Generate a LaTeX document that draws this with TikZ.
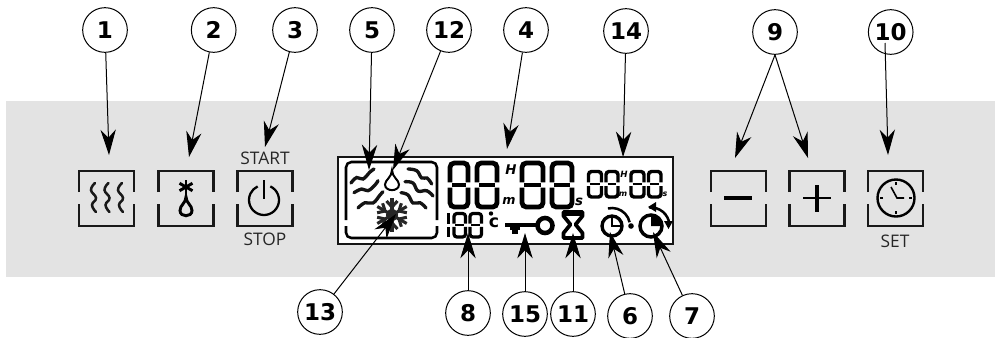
\documentclass[tikz,border=0pt]{standalone}
\usepackage{fontspec}
\setmainfont{Open Sans}
\newfontfamily\numfont{DejaVu Sans}
\usetikzlibrary{arrows.meta}
\newcommand{\lcdd}[5]{%
  \pgfmathsetmacro\lcdm{(#2+#4)/2}%
  \pgfmathsetmacro\lcdi{#5*0.6}%
  \draw[line width=#5pt,rounded corners=#5*0.9pt] (#1,\lcdm-0.7*#5) -- (#1,#2) -- (#3,#2) -- (#3,\lcdm-0.7*#5);
  \draw[line width=#5pt,rounded corners=#5*0.9pt] (#1,\lcdm+0.7*#5) -- (#1,#4) -- (#3,#4) -- (#3,\lcdm+0.7*#5);
  \draw[line width=#5*0.7pt] (#1+\lcdi,\lcdm) -- (#3-\lcdi,\lcdm);
}
\newcommand{\bracketbox}[2]{%
  \draw[btn] (#1,#2+21) -- (#1,#2) -- (#1+55,#2) -- (#1+55,#2+21);
  \draw[btn] (#1,#2+33) -- (#1,#2+55) -- (#1+55,#2+55) -- (#1+55,#2+33);
}
\newcommand{\lcdwave}[1]{\draw[wavy] plot[smooth,tension=0.7] coordinates {#1};}
\tikzset{
  panel/.style={fill=black!11,draw=none},
  btn/.style={line width=2.2pt,draw=black!90},
  wavy/.style={line width=2.5pt,line cap=round,draw=black!92},
  callout/.style={circle,draw,line width=0.75pt,minimum size=33.5pt,inner sep=0pt,font=\numfont\bfseries\fontsize{17.25}{18}\selectfont},
  pointer/.style={line width=0.75pt,-{Stealth[length=19pt,width=11.5pt,inset=6pt]}},
  legend/.style={inner sep=0pt,font=\fontsize{13}{14}\selectfont,text=black!85},
  unitmark/.style={inner sep=0pt,font=\numfont\bfseries\itshape\fontsize{#1}{#1}\selectfont},
  unitmark/.default=9
}
\begin{document}
\begin{tikzpicture}[x=0.75pt,y=-0.75pt]
\useasboundingbox (0,0) rectangle (995,337);
\fill[panel] (6,101) rectangle (995,276.5);

% keys
\bracketbox{79}{171}
\bracketbox{158.5}{171}
\bracketbox{237.5}{171}
\bracketbox{711}{171}
\bracketbox{789.5}{171}
\bracketbox{868}{171}

% heat icon
\foreach \dx in {0,13.5,27}{
  \draw[line width=1.9pt,line cap=round,draw=black!90,shift={(\dx,0)}] plot[smooth,tension=0.8] coordinates {(95,183) (91,190) (96,198) (92,205) (96,212)};
}
% cold and wet icon
\foreach \a in {90,30,150}{
  \draw[line width=2.2pt] (186,187) ++(\a:7.5) -- ++(\a+180:15);
}
\draw[line width=2.2pt] (186,197) .. controls (186,203) and (192,205) .. (192,210.5) .. controls (192,217.5) and (180,217.5) .. (180,210.5) .. controls (180,205) and (186,203) .. (186,197) -- cycle;
% power icon
\draw[line width=1.7pt] (264,200) ++(-65:15) arc[start angle=-65,end angle=245,radius=15];
\draw[line width=1.9pt] (264,180) -- (264,199);
\node[legend] (start) at (265,158) {START};
\node[legend] (stop) at (265,239) {STOP};
% minus, plus, clock
\draw[line width=3.2pt] (724,198) -- (752,198);
\draw[line width=2.2pt] (803,198) -- (831,198);
\draw[line width=2.6pt] (817,185) -- (817,212);
\draw[line width=1.8pt] (896,198) circle[radius=18.5];
\draw[line width=1.2pt] (891,187) -- (897,198) -- (904,198);
\foreach \a in {0,90,180,270}{
  \draw[line width=1.2pt] (896,198) ++(\a:13) -- ++(\a:3);
}
\node[legend] (set) at (895,241) {SET};

% display
\draw[line width=2.2pt,fill=white,draw=black!92] (338,157) rectangle (673,244);
\draw[line width=1.9pt,rounded corners=4pt] (346,220) -- (346,162) -- (437,162) -- (437,220);
\draw[line width=1.9pt,rounded corners=4pt] (346,226) -- (346,238) -- (437,238) -- (437,226);
\lcdwave{(351,183) (356.7,177.5) (363,179) (370,172) (374,169)}
\lcdwave{(354,192.7) (361.7,189) (368,190.7) (375,185) (378,180.7)}
\lcdwave{(358,208) (365,202.7) (373,203) (380,195) (383,191.7)}
\lcdwave{(408,169) (416.7,170.7) (421.7,178) (427,178) (431.7,184)}
\lcdwave{(405,181.7) (413,183) (418,191) (426.7,190.7) (433,196)}
\lcdwave{(401,192.7) (408,195) (413,203) (420,202.7) (426,208)}
% drop
\draw[line width=1.5pt] (392,170) .. controls (392,177) and (399,180) .. (399,184.5) .. controls (399,192) and (385,192) .. (385,184.5) .. controls (385,180) and (392,177) .. (392,170) -- cycle;
% snowflake
\foreach \a in {30,90,150,210,270,330}{
  \begin{scope}[shift={(392,215)},rotate=\a,draw=black!85,line width=2.3pt]
    \draw (0,0) -- (17,0);
    \draw (8,0) -- (14,5.5);
    \draw (8,0) -- (14,-5.5);
  \end{scope}
}
\fill[black!85] (392,215) circle[radius=6];

% digits
\lcdd{450}{163}{468}{207}{3.6}
\lcdd{477}{163}{497}{207}{3.6}
\lcdd{522}{163}{543}{207}{3.6}
\lcdd{552}{163}{572}{207}{3.6}
\lcdd{588.5}{171.5}{601.5}{197}{2.6}
\lcdd{606}{171.5}{618}{197}{2.6}
\lcdd{631}{171.5}{644}{197}{2.6}
\lcdd{648.5}{171.5}{661}{197}{2.6}
\draw[line width=2.6pt] (448.5,213) -- (448.5,224);
\draw[line width=2.6pt] (448.5,227) -- (448.5,237);
\lcdd{454}{213.5}{465.5}{237}{2.4}
\lcdd{470}{213.5}{481.5}{237}{2.4}
\node[unitmark=10] (uh) at (511,170) {H};
\node[unitmark=9.5] (um) at (509,201) {m};
\node[unitmark=10] (us) at (579,202) {s};
\node[unitmark=6.5] (uh2) at (624,174) {H};
\node[unitmark=6] (um2) at (623,194) {m};
\node[unitmark=6] (us2) at (665,194) {s};
\node[inner sep=0pt,font=\numfont\bfseries\fontsize{13}{13}\selectfont] (deg) at (494,223) {c};
\fill (491,213.5) circle[radius=2.2];

% key
\draw[line width=3.2pt] (505,225) -- (538,225);
\fill (510,225) rectangle (520,230);
\fill (512,230) rectangle (518,234);
\draw[line width=3.4pt] (545,225.5) circle[radius=7.5];

% hourglass
\draw[line width=2.8pt,line join=round] (563.5,212) -- (582.5,212) -- (582.5,216) -- (575.5,224.5) -- (582.5,233) -- (582.5,238) -- (563.5,238) -- (563.5,233) -- (570.5,224.5) -- (563.5,216) -- cycle;
\fill (564,212) rectangle (582,216);

% clock symbols
\draw[line width=2.5pt] (612,226) circle[radius=10];
\draw[line width=2.1pt] (612,216) -- (612,226) -- (622,226);
\draw[line width=1.9pt] (612,226) ++(-103:18) arc[start angle=-103,end angle=-12,radius=18];
\fill (631,226) circle[radius=2.8];
\draw[line width=2.6pt] (651,226) circle[radius=11];
\fill (651,226) -- (651,215) arc[start angle=-90,end angle=0,radius=11] -- cycle;
\draw[line width=1.9pt] (651,226) ++(-95:18.5) arc[start angle=-95,end angle=-5,radius=18.5];
\fill (648,207) -- (656,202) -- (656,212) -- cycle;
\fill (664,221) -- (673,221) -- (668.5,229) -- cycle;

% callouts
\node[callout] (n1) at (105,30) {1};
\node[callout] (n2) at (213.7,30) {2};
\node[callout] (n3) at (295,30) {3};
\node[callout] (n5) at (372,30) {5};
\node[callout] (n12) at (449,30) {12};
\node[callout] (n4) at (526,30) {4};
\node[callout] (n14) at (626,31) {14};
\node[callout] (n9) at (775,32) {9};
\node[callout] (n10) at (890.7,32) {10};
\node[callout] (n13) at (320,312) {13};
\node[callout] (n8) at (468,313) {8};
\node[callout] (n15) at (525,314) {15};
\node[callout] (n11) at (573,314) {11};
\node[callout] (n6) at (630,316) {6};
\node[callout] (n7) at (692,316) {7};

\coordinate (t1) at (109,155);
\coordinate (t2) at (189,157);
\coordinate (t3) at (265,147);
\coordinate (t5) at (369,170);
\coordinate (t12) at (393,170);
\coordinate (t4) at (507,149);
\coordinate (t14) at (623,157);
\coordinate (t9a) at (735,158);
\coordinate (t9b) at (808,158);
\coordinate (s10) at (885,43);
\coordinate (t10) at (888,155);
\coordinate (t13) at (396,214);
\coordinate (t8) at (468,233);
\coordinate (t15) at (525,233);
\coordinate (t11) at (573,233);
\coordinate (t6) at (610,232);
\coordinate (t7) at (653,232);

\draw[pointer] (n1) -- (t1);
\draw[pointer] (n2) -- (t2);
\draw[pointer] (n3) -- (t3);
\draw[pointer] (n5) -- (t5);
\draw[pointer] (n12) -- (t12);
\draw[pointer] (n4) -- (t4);
\draw[pointer] (n14) -- (t14);
\draw[pointer] (n9.south) -- (t9a);
\draw[pointer] (n9.south) -- (t9b);
\draw[pointer] (s10) -- (t10);
\draw[pointer] (n13) -- (t13);
\draw[pointer] (n8) -- (t8);
\draw[pointer] (n15) -- (t15);
\draw[pointer] (n11) -- (t11);
\draw[pointer] (n6) -- (t6);
\draw[pointer] (n7) -- (t7);
\end{tikzpicture}
\end{document}
